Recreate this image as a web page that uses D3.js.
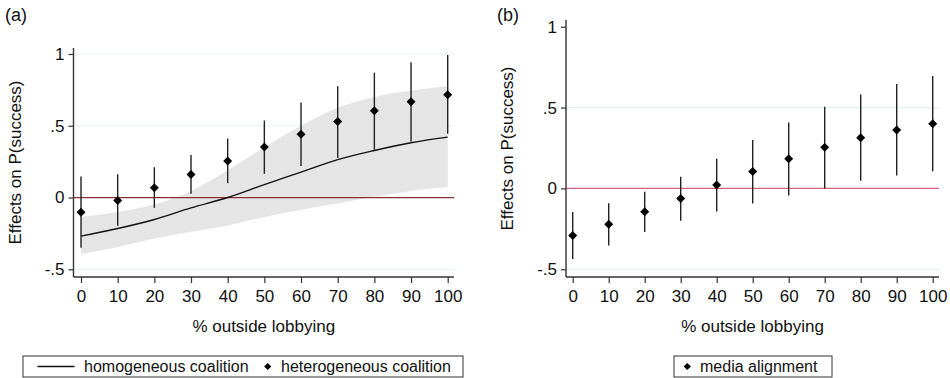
<!DOCTYPE html>
<html>
<head>
<meta charset="utf-8">
<script src="https://cdn.jsdelivr.net/npm/d3@7/dist/d3.min.js"></script>
<style>
  html, body { margin: 0; padding: 0; background: #fff; }
  svg { display: block; font-family: "Liberation Sans", Arial, Helvetica, sans-serif; }
</style>
</head>
<body>
<svg id="chart" width="950" height="378"></svg>
<script>
// ---- data ----
const xValues = [0, 10, 20, 30, 40, 50, 60, 70, 80, 90, 100];
const xTickLabels = ["0", "10", "20", "30", "40", "50", "60", "70", "80", "90", "100"];
const yTickValues = [-0.5, 0, 0.5, 1];
const yTickLabels = ["-.5", "0", ".5", "1"];

// panel (a)
const homCurve = [-0.269, -0.216, -0.153, -0.072, 0.0, 0.09, 0.177, 0.264, 0.328, 0.382, 0.421];
const homBandHi = [-0.135, -0.1, -0.049, 0.045, 0.19, 0.35, 0.50, 0.625, 0.70, 0.745, 0.776];
const homBandLo = [-0.395, -0.344, -0.286, -0.239, -0.195, -0.135, -0.085, -0.042, 0.005, 0.045, 0.073];
const hetPoint = [-0.102, -0.021, 0.068, 0.16, 0.255, 0.352, 0.441, 0.53, 0.604, 0.667, 0.716];
const hetLo = [-0.35, -0.197, -0.072, 0.026, 0.1, 0.165, 0.22, 0.276, 0.332, 0.39, 0.444];
const hetHi = [0.146, 0.162, 0.211, 0.297, 0.411, 0.537, 0.662, 0.776, 0.87, 0.942, 0.993];

// panel (b)
const mediaPoint = [-0.291, -0.221, -0.144, -0.062, 0.021, 0.105, 0.184, 0.254, 0.313, 0.361, 0.4];
const mediaLo = [-0.437, -0.353, -0.27, -0.2, -0.142, -0.093, -0.043, 0.0, 0.047, 0.08, 0.107];
const mediaHi = [-0.146, -0.091, -0.021, 0.072, 0.184, 0.299, 0.408, 0.505, 0.581, 0.645, 0.695];

const panelLabels = ["(a)", "(b)"];
const xTitle = "% outside lobbying";
const yTitle = "Effects on P(success)";
const legendA = ["homogeneous coalition", "heterogeneous coalition"];
const legendB = ["media alignment"];

// ---- drawing ----
const svg = d3.select("#chart");
const FONT = 17;
const LFONT = 16;
const axisColor = "#333";

function panel(cfg) {
  const g = svg.append("g");
  const x = d3.scaleLinear().domain([0, 100]).range(cfg.xRange);
  const y = d3.scaleLinear().domain([-0.5, 1]).range(cfg.yRange);

  g.selectAll("line.grid").data(cfg.grid).enter().append("line")
    .attr("x1", cfg.axisX).attr("x2", cfg.rightX)
    .attr("y1", d => y(d)).attr("y2", d => y(d))
    .attr("stroke", "#eaf1f2").attr("stroke-width", 1.2);

  if (cfg.band) {
    const area = d3.area().x((d, i) => x(xValues[i]))
      .y0((d, i) => y(cfg.band.lo[i])).y1((d, i) => y(cfg.band.hi[i]))
      .curve(d3.curveMonotoneX);
    g.append("path").datum(xValues).attr("d", area).attr("fill", "#e5e5e5");
  }

  g.append("line").attr("x1", cfg.axisX).attr("x2", cfg.rightX)
    .attr("y1", y(0)).attr("y2", y(0))
    .attr("stroke", cfg.zeroColor).attr("stroke-width", 1.3);

  if (cfg.curve) {
    const line = d3.line().x((d, i) => x(xValues[i])).y(d => y(d)).curve(d3.curveMonotoneX);
    g.append("path").datum(cfg.curve).attr("d", line)
      .attr("fill", "none").attr("stroke", "#111").attr("stroke-width", 1.4);
  }

  g.selectAll("line.ci").data(xValues).enter().append("line")
    .attr("x1", d => x(d)).attr("x2", d => x(d))
    .attr("y1", (d, i) => y(cfg.lo[i])).attr("y2", (d, i) => y(cfg.hi[i]))
    .attr("stroke", "#222").attr("stroke-width", 1.4);

  g.selectAll("path.pt").data(xValues).enter().append("path")
    .attr("d", d3.symbol().type(d3.symbolSquare).size(40))
    .attr("transform", (d, i) => `translate(${x(d)},${y(cfg.pt[i])}) rotate(45)`)
    .attr("fill", "#000");

  const yAxis = d3.axisLeft(y).tickValues(yTickValues)
    .tickFormat((d, i) => yTickLabels[i]).tickSize(5).tickPadding(4);
  const ya = g.append("g").attr("transform", `translate(${cfg.axisX},0)`).call(yAxis);
  ya.select(".domain").remove();
  ya.append("line").attr("x1", 0).attr("x2", 0).attr("y1", cfg.axisTop).attr("y2", cfg.axisBottom)
    .attr("stroke", axisColor).attr("stroke-width", 1.4);

  const xAxis = d3.axisBottom(x).tickValues(xValues)
    .tickFormat((d, i) => xTickLabels[i]).tickSize(6).tickPadding(7);
  const xa = g.append("g").attr("transform", `translate(0,${cfg.axisBottom})`).call(xAxis);
  xa.select(".domain").remove();
  xa.append("line").attr("x1", cfg.axisX).attr("x2", cfg.rightX).attr("y1", 0).attr("y2", 0)
    .attr("stroke", axisColor).attr("stroke-width", 1.4);

  [ya, xa].forEach(a => {
    a.selectAll(".tick line").attr("stroke", axisColor).attr("stroke-width", 1.2);
    a.selectAll(".tick text").attr("fill", "#111").style("font-size", FONT + "px")
      .style("font-family", '"Liberation Sans", Arial, sans-serif');
  });

  g.append("text").attr("x", (cfg.axisX + cfg.rightX) / 2).attr("y", 332)
    .attr("text-anchor", "middle").style("font-size", FONT + "px").attr("fill", "#111").text(xTitle);
  g.append("text")
    .attr("transform", `translate(${cfg.yTitleX},${(cfg.axisTop + cfg.axisBottom) / 2}) rotate(-90)`)
    .attr("text-anchor", "middle").style("font-size", FONT + "px").attr("fill", "#111").text(yTitle);
  g.append("text").attr("x", cfg.labelX).attr("y", 21)
    .style("font-size", "18px").attr("fill", "#111").text(cfg.label);

  const lg = g.append("g");
  lg.append("rect").attr("x", cfg.legend.x).attr("y", 356).attr("width", cfg.legend.w).attr("height", 21)
    .attr("fill", "#fff").attr("stroke", "#333").attr("stroke-width", 1);
  cfg.legend.items.forEach(it => {
    if (it.type === "line") {
      lg.append("line").attr("x1", it.x).attr("x2", it.x + 37).attr("y1", 366.5).attr("y2", 366.5)
        .attr("stroke", "#111").attr("stroke-width", 1.3);
    } else {
      lg.append("path").attr("d", d3.symbol().type(d3.symbolSquare).size(26))
        .attr("transform", `translate(${it.x},366.5) rotate(45)`).attr("fill", "#000");
    }
    lg.append("text").attr("x", it.tx).attr("y", 372).style("font-size", LFONT + "px")
      .attr("fill", "#111").text(it.text);
  });
}

panel({
  xRange: [81, 447.7], yRange: [269.3, 54], axisX: 73.5, rightX: 454,
  axisTop: 48, axisBottom: 277, grid: [-0.5, 0.5, 1],
  zeroColor: "#8e2f35",
  band: { lo: homBandLo, hi: homBandHi }, curve: homCurve,
  pt: hetPoint, lo: hetLo, hi: hetHi,
  yTitleX: 21, labelX: 5, label: panelLabels[0],
  legend: { x: 23, w: 440, items: [
    { type: "line", x: 37.5, tx: 84, text: legendA[0] },
    { type: "pt", x: 267.7, tx: 281, text: legendA[1] }
  ] }
});

panel({
  xRange: [572.7, 932.7], yRange: [269.3, 26.7], axisX: 566, rightX: 939,
  axisTop: 20, axisBottom: 277, grid: [-0.5, 0.5],
  zeroColor: "#d4637e",
  band: null, curve: null,
  pt: mediaPoint, lo: mediaLo, hi: mediaHi,
  yTitleX: 513, labelX: 497, label: panelLabels[1],
  legend: { x: 674, w: 158, items: [
    { type: "pt", x: 687.3, tx: 700, text: legendB[0] }
  ] }
});
</script>
</body>
</html>
